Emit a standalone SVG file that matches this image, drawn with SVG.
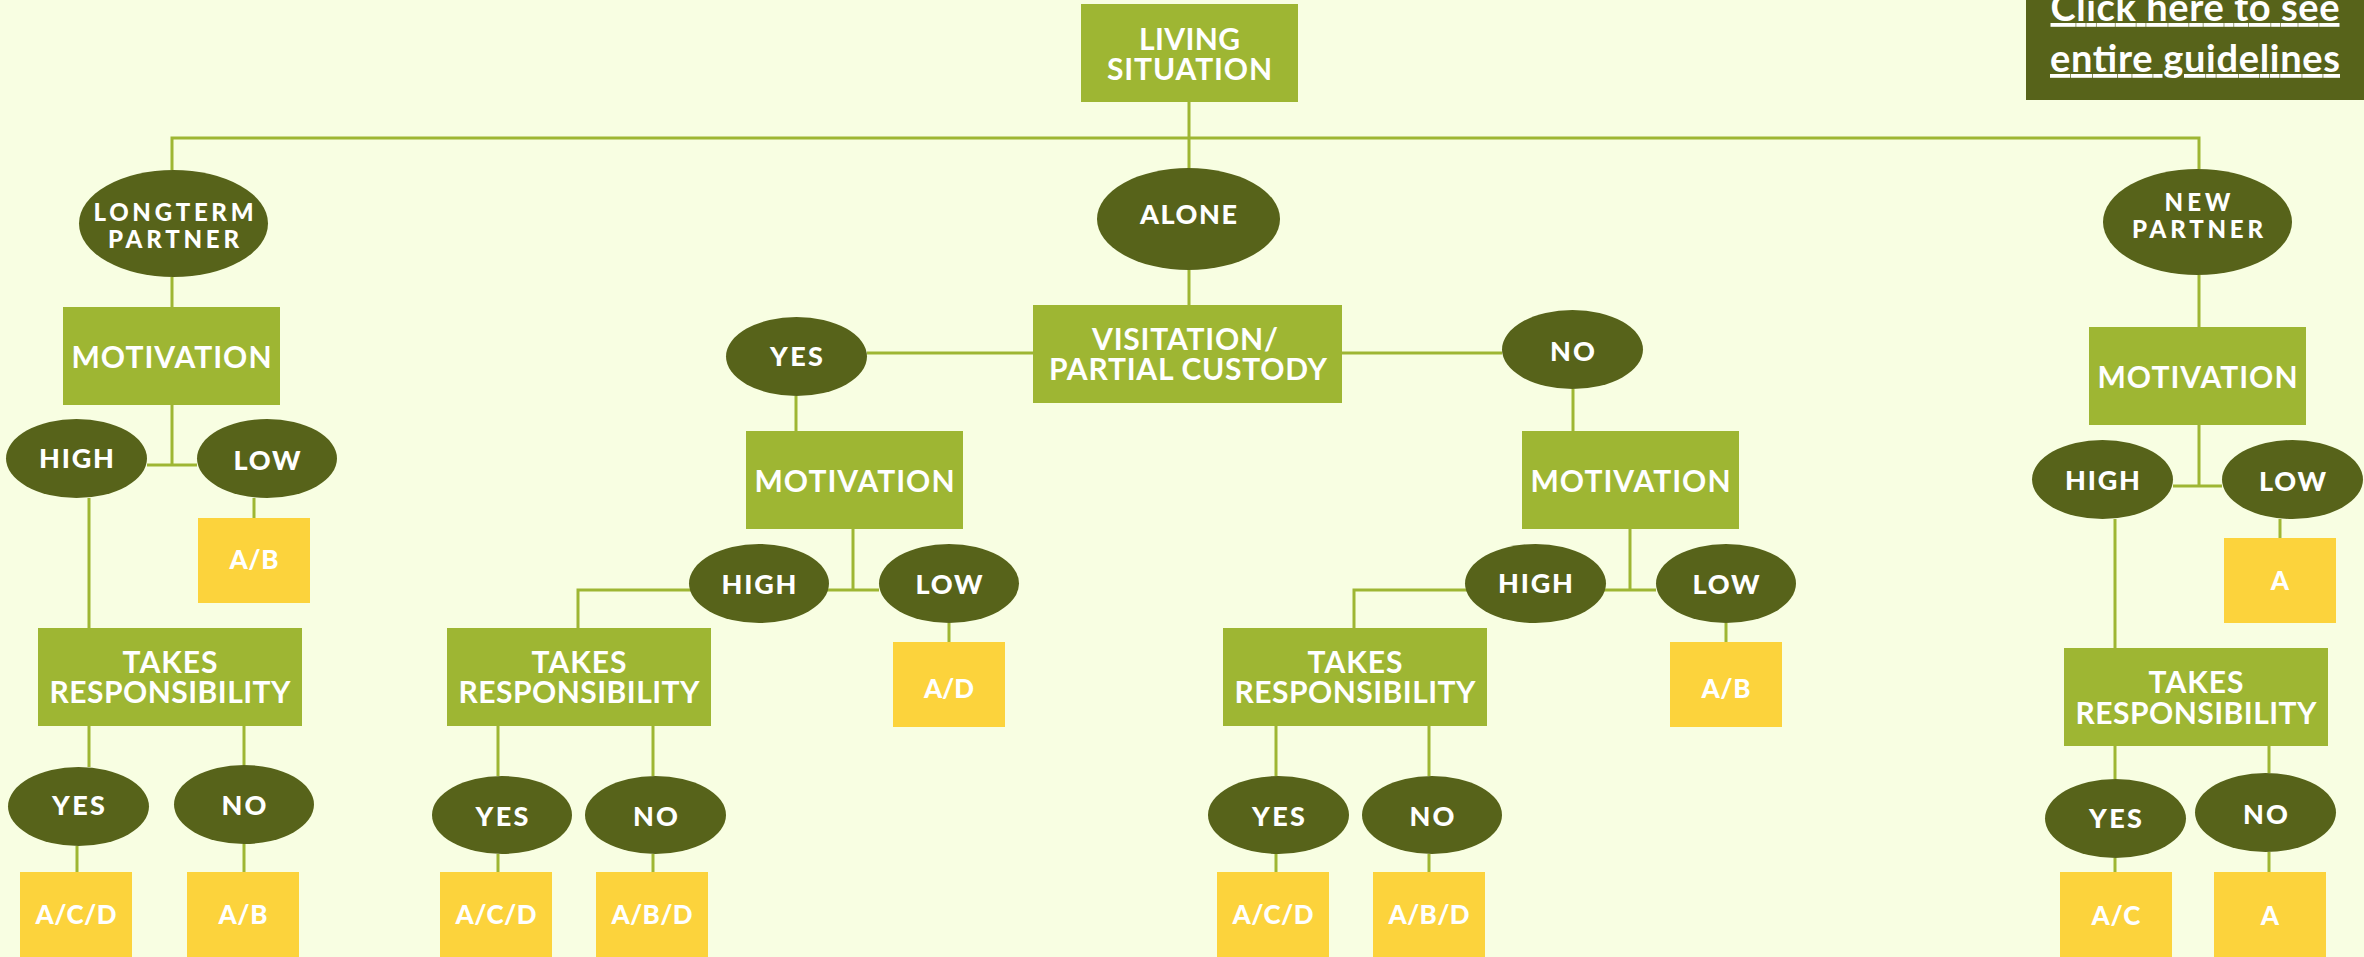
<svg xmlns="http://www.w3.org/2000/svg" width="2364" height="957" viewBox="0 0 2364 957">
<style>
.bg{fill:#F8FEE2}
.box{fill:#9EB633}
.ell{fill:#57631A}
.res{fill:#FCD33C}
.btn{fill:#57631A}
.c{fill:none;stroke:#9EB633;stroke-width:3}
text{font-family:Lato,"Liberation Sans",sans-serif;font-weight:700;fill:#FFFFFF;text-anchor:middle}
.tb{font-size:30px}
.te{font-size:27px;font-weight:900}
.te2{font-size:24px;font-weight:900}
.tr{font-size:26px;font-weight:900}
.tl{font-size:38px;text-decoration:underline}
</style>
<rect class="bg" x="0" y="0" width="2364" height="957"/>
<g id="connectors">
<path class="c" d="M172,170 V138 H2199 V169"/>
<path class="c" d="M1189,102 V168"/>
<path class="c" d="M172,277 V307"/>
<path class="c" d="M172,405 V465 M147,465 H197"/>
<path class="c" d="M89,498 V628"/>
<path class="c" d="M254,498 V518"/>
<path class="c" d="M89,726 V767 M77,846 V872"/>
<path class="c" d="M244,726 V765 M244,844 V872"/>
<path class="c" d="M1189,270 V305"/>
<path class="c" d="M867,353 H1033 M1342,353 H1502"/>
<path class="c" d="M796,396 V431"/>
<path class="c" d="M853,529 V590 M578,628 V590 H879"/>
<path class="c" d="M949,623 V642"/>
<path class="c" d="M498,726 V776 M653,726 V776 M498,854 V872 M653,854 V872"/>
<path class="c" d="M1573,389 V431"/>
<path class="c" d="M1630,529 V590 M1354,628 V590 H1656"/>
<path class="c" d="M1726,623 V642"/>
<path class="c" d="M1276,726 V776 M1429,726 V776 M1276,854 V872 M1429,854 V872"/>
<path class="c" d="M2199,275 V327 M2199,425 V486 M2173,486 H2222"/>
<path class="c" d="M2280,519 V538"/>
<path class="c" d="M2115,519 V648"/>
<path class="c" d="M2115,746 V779 M2269,746 V773 M2115,858 V872 M2269,852 V872"/>
</g>
<g id="guidelines-link">
<rect class="btn" x="2026" y="0" width="338" height="100"/>
<text class="tl" x="2195" y="21" textLength="289">Click here to see</text>
<text class="tl" x="2195" y="72" textLength="290">entire guidelines</text>
</g>
<g id="living-situation">
<rect class="box" x="1081" y="4" width="217" height="98"/>
<text class="tb" x="1189.5" y="50" textLength="101">LIVING</text>
<text class="tb" x="1189.5" y="80" textLength="165">SITUATION</text>
</g>
<g id="longterm-partner">
<ellipse class="ell" cx="173.5" cy="223.5" rx="94.5" ry="53.5"/>
<text class="te2" x="173.5" y="221" textLength="160">LONGTERM</text>
<text class="te2" x="173.5" y="248" textLength="131">PARTNER</text>
</g>
<g id="alone">
<ellipse class="ell" cx="1188.5" cy="219" rx="91.5" ry="51"/>
<text class="te" x="1188.5" y="224" textLength="97">ALONE</text>
</g>
<g id="new-partner">
<ellipse class="ell" cx="2197.5" cy="222" rx="94.5" ry="53"/>
<text class="te2" x="2197.5" y="211" textLength="66">NEW</text>
<text class="te2" x="2197.5" y="238" textLength="131">PARTNER</text>
</g>
<g id="lt-motivation">
<rect class="box" x="63" y="307" width="217" height="98"/>
<text class="tb" x="171.5" y="368" textLength="200">MOTIVATION</text>
</g>
<g id="lt-high">
<ellipse class="ell" cx="76.5" cy="458.5" rx="70.5" ry="39.5"/>
<text class="te" x="76.5" y="468" textLength="75">HIGH</text>
</g>
<g id="lt-low">
<ellipse class="ell" cx="267" cy="458.5" rx="70" ry="39.5"/>
<text class="te" x="267" y="470" textLength="67">LOW</text>
</g>
<g id="lt-low-result">
<rect class="res" x="198" y="518" width="112" height="85"/>
<text class="tr" x="254" y="569" textLength="49">A/B</text>
</g>
<g id="lt-takes-responsibility">
<rect class="box" x="38" y="628" width="264" height="98"/>
<text class="tb" x="170" y="673" textLength="95">TAKES</text>
<text class="tb" x="170" y="703" textLength="241">RESPONSIBILITY</text>
</g>
<g id="lt-yes">
<ellipse class="ell" cx="78.5" cy="806.5" rx="70.5" ry="39.5"/>
<text class="te" x="78.5" y="815" textLength="53">YES</text>
</g>
<g id="lt-no">
<ellipse class="ell" cx="244" cy="804.5" rx="70" ry="39.5"/>
<text class="te" x="244" y="815" textLength="45">NO</text>
</g>
<g id="lt-yes-result">
<rect class="res" x="20" y="872" width="112" height="85"/>
<text class="tr" x="76" y="924" textLength="81">A/C/D</text>
</g>
<g id="lt-no-result">
<rect class="res" x="187" y="872" width="112" height="85"/>
<text class="tr" x="243" y="924" textLength="49">A/B</text>
</g>
<g id="visitation">
<rect class="box" x="1033" y="305" width="309" height="98"/>
<text class="tb" x="1185" y="350" textLength="186">VISITATION/</text>
<text class="tb" x="1188" y="380" textLength="278">PARTIAL CUSTODY</text>
</g>
<g id="v-yes">
<ellipse class="ell" cx="796.5" cy="356.5" rx="70.5" ry="39.5"/>
<text class="te" x="796.5" y="366" textLength="53">YES</text>
</g>
<g id="v-no">
<ellipse class="ell" cx="1572.5" cy="349.5" rx="70.5" ry="39.5"/>
<text class="te" x="1572.5" y="361" textLength="45">NO</text>
</g>
<g id="vy-motivation">
<rect class="box" x="746" y="431" width="217" height="98"/>
<text class="tb" x="854.5" y="492" textLength="200">MOTIVATION</text>
</g>
<g id="vy-high">
<ellipse class="ell" cx="759" cy="583.5" rx="70" ry="39.5"/>
<text class="te" x="759" y="594" textLength="75">HIGH</text>
</g>
<g id="vy-low">
<ellipse class="ell" cx="949" cy="583.5" rx="70" ry="39.5"/>
<text class="te" x="949" y="594" textLength="67">LOW</text>
</g>
<g id="vy-low-result">
<rect class="res" x="893" y="642" width="112" height="85"/>
<text class="tr" x="949" y="698" textLength="50">A/D</text>
</g>
<g id="vy-takes-responsibility">
<rect class="box" x="447" y="628" width="264" height="98"/>
<text class="tb" x="579" y="673" textLength="95">TAKES</text>
<text class="tb" x="579" y="703" textLength="241">RESPONSIBILITY</text>
</g>
<g id="vy-yes">
<ellipse class="ell" cx="502" cy="815" rx="70" ry="39"/>
<text class="te" x="502" y="826" textLength="53">YES</text>
</g>
<g id="vy-no">
<ellipse class="ell" cx="655.5" cy="815" rx="70.5" ry="39"/>
<text class="te" x="655.5" y="826" textLength="45">NO</text>
</g>
<g id="vy-yes-result">
<rect class="res" x="440" y="872" width="112" height="85"/>
<text class="tr" x="496" y="924" textLength="81">A/C/D</text>
</g>
<g id="vy-no-result">
<rect class="res" x="596" y="872" width="112" height="85"/>
<text class="tr" x="652" y="924" textLength="81">A/B/D</text>
</g>
<g id="vn-motivation">
<rect class="box" x="1522" y="431" width="217" height="98"/>
<text class="tb" x="1630.5" y="492" textLength="200">MOTIVATION</text>
</g>
<g id="vn-high">
<ellipse class="ell" cx="1535.5" cy="583.5" rx="70.5" ry="39.5"/>
<text class="te" x="1535.5" y="593" textLength="75">HIGH</text>
</g>
<g id="vn-low">
<ellipse class="ell" cx="1726" cy="583.5" rx="70" ry="39.5"/>
<text class="te" x="1726" y="594" textLength="67">LOW</text>
</g>
<g id="vn-low-result">
<rect class="res" x="1670" y="642" width="112" height="85"/>
<text class="tr" x="1726" y="698" textLength="49">A/B</text>
</g>
<g id="vn-takes-responsibility">
<rect class="box" x="1223" y="628" width="264" height="98"/>
<text class="tb" x="1355" y="673" textLength="95">TAKES</text>
<text class="tb" x="1355" y="703" textLength="241">RESPONSIBILITY</text>
</g>
<g id="vn-yes">
<ellipse class="ell" cx="1278.5" cy="815" rx="70.5" ry="39"/>
<text class="te" x="1278.5" y="826" textLength="53">YES</text>
</g>
<g id="vn-no">
<ellipse class="ell" cx="1432" cy="815" rx="70" ry="39"/>
<text class="te" x="1432" y="826" textLength="45">NO</text>
</g>
<g id="vn-yes-result">
<rect class="res" x="1217" y="872" width="112" height="85"/>
<text class="tr" x="1273" y="924" textLength="81">A/C/D</text>
</g>
<g id="vn-no-result">
<rect class="res" x="1373" y="872" width="112" height="85"/>
<text class="tr" x="1429" y="924" textLength="81">A/B/D</text>
</g>
<g id="np-motivation">
<rect class="box" x="2089" y="327" width="217" height="98"/>
<text class="tb" x="2197.5" y="388" textLength="200">MOTIVATION</text>
</g>
<g id="np-high">
<ellipse class="ell" cx="2102.5" cy="479.5" rx="70.5" ry="39.5"/>
<text class="te" x="2102.5" y="490" textLength="75">HIGH</text>
</g>
<g id="np-low">
<ellipse class="ell" cx="2292.5" cy="479.5" rx="70.5" ry="39.5"/>
<text class="te" x="2292.5" y="491" textLength="67">LOW</text>
</g>
<g id="np-low-result">
<rect class="res" x="2224" y="538" width="112" height="85"/>
<text class="tr" x="2280" y="590">A</text>
</g>
<g id="np-takes-responsibility">
<rect class="box" x="2064" y="648" width="264" height="98"/>
<text class="tb" x="2196" y="693" textLength="95">TAKES</text>
<text class="tb" x="2196" y="724" textLength="241">RESPONSIBILITY</text>
</g>
<g id="np-yes">
<ellipse class="ell" cx="2115.5" cy="818.5" rx="70.5" ry="39.5"/>
<text class="te" x="2115.5" y="828" textLength="53">YES</text>
</g>
<g id="np-no">
<ellipse class="ell" cx="2265.5" cy="812.5" rx="70.5" ry="39.5"/>
<text class="te" x="2265.5" y="824" textLength="45">NO</text>
</g>
<g id="np-yes-result">
<rect class="res" x="2060" y="872" width="112" height="85"/>
<text class="tr" x="2116" y="925" textLength="49">A/C</text>
</g>
<g id="np-no-result">
<rect class="res" x="2214" y="872" width="112" height="85"/>
<text class="tr" x="2270" y="925">A</text>
</g>
</svg>
